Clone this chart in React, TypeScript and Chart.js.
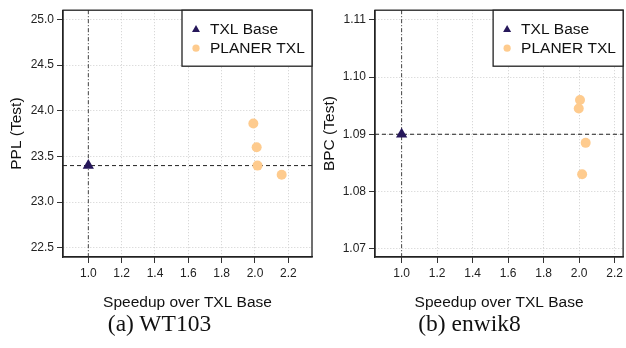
import React, { useEffect, useRef } from "react";
import { Chart, registerables } from "chart.js";

Chart.register(...registerables);

// ---- data ----
const seriesLabels = ["TXL Base", "PLANER TXL"];
const xTicks = [1.0, 1.2, 1.4, 1.6, 1.8, 2.0, 2.2];
const wtYTicks = [22.5, 23.0, 23.5, 24.0, 24.5, 25.0];
const enYTicks = [1.07, 1.08, 1.09, 1.1, 1.11];

const wtBaseSpeedup = [1.0];
const wtBasePPL = [23.4];
const wtPlanerSpeedup = [1.99, 2.01, 2.015, 2.16];
const wtPlanerPPL = [23.86, 23.6, 23.4, 23.3];

const enBaseSpeedup = [1.0];
const enBaseBPC = [1.09];
const enPlanerSpeedup = [2.005, 1.998, 2.037, 2.017];
const enPlanerBPC = [1.096, 1.0945, 1.0885, 1.083];

const captions = ["(a) WT103", "(b) enwik8"];

const BASE_COLOR = "#26175a";
const PLANER_COLOR = "#fecb8e";
const SANS = "'Liberation Sans', Arial, Helvetica, sans-serif";

const overlay = {
  id: "overlay",
  beforeDatasetsDraw(chart: any, _args: any, opts: any) {
    const { ctx, chartArea: a, scales } = chart;
    const px = scales.x.getPixelForValue(opts.refX);
    const py = scales.y.getPixelForValue(opts.refY);
    ctx.save();
    ctx.lineWidth = 1;
    ctx.strokeStyle = "#444";
    ctx.setLineDash([4, 2, 1, 2]);
    ctx.beginPath();
    ctx.moveTo(px, a.top);
    ctx.lineTo(px, a.bottom);
    ctx.stroke();
    ctx.strokeStyle = "#222";
    ctx.setLineDash([4, 3]);
    ctx.beginPath();
    ctx.moveTo(a.left, py);
    ctx.lineTo(a.right, py);
    ctx.stroke();
    ctx.restore();
  },
  afterDraw(chart: any) {
    const { ctx, chartArea: a } = chart;
    ctx.save();
    ctx.setLineDash([]);
    // frame
    ctx.strokeStyle = "#222";
    ctx.lineWidth = 1.3;
    ctx.strokeRect(a.left, a.top, a.right - a.left, a.bottom - a.top);
    // legend
    const w = 130;
    const h = 56;
    const lx = a.right - w;
    const ly = a.top;
    ctx.fillStyle = "#fff";
    ctx.fillRect(lx, ly, w, h);
    ctx.strokeRect(lx, ly, w, h);
    const ds = chart.data.datasets;
    const rows = [ly + 18.7, ly + 38];
    ctx.font = `15.5px ${SANS}`;
    ctx.textBaseline = "middle";
    ctx.textAlign = "left";
    for (let i = 0; i < 2; i++) {
      const mx = lx + 14;
      const my = rows[i];
      ctx.fillStyle = ds[i].backgroundColor;
      ctx.beginPath();
      if (ds[i].pointStyle === "triangle") {
        const r = 4.6;
        for (let k = 0; k < 3; k++) {
          const ang = (k * 2 * Math.PI) / 3;
          const x = mx + Math.sin(ang) * r;
          const y = my + 0.8 - Math.cos(ang) * r;
          if (k === 0) ctx.moveTo(x, y);
          else ctx.lineTo(x, y);
        }
        ctx.closePath();
      } else {
        ctx.arc(mx, my, 3.6, 0, Math.PI * 2);
      }
      ctx.fill();
      ctx.fillStyle = "#111";
      ctx.fillText(ds[i].label, lx + 28, my + 1);
    }
    ctx.restore();
  },
};

type PanelProps = {
  baseX: number[];
  baseY: number[];
  planerX: number[];
  planerY: number[];
  yTicks: number[];
  yDecimals: number;
  xMin: number;
  xMax: number;
  yMin: number;
  yMax: number;
  yTitle: string;
  yAxisWidth: number;
  padRight: number;
};

function Panel(p: PanelProps) {
  const ref = useRef<HTMLCanvasElement>(null);
  useEffect(() => {
    if (!ref.current) return;
    const chart = new Chart(ref.current, {
      type: "scatter",
      data: {
        datasets: [
          {
            label: seriesLabels[0],
            data: p.baseX.map((x, i) => ({ x, y: p.baseY[i] })),
            backgroundColor: BASE_COLOR,
            borderColor: BASE_COLOR,
            pointStyle: "triangle",
            pointRadius: 6.5,
            pointBorderWidth: 0,
            order: 0,
          },
          {
            label: seriesLabels[1],
            data: p.planerX.map((x, i) => ({ x, y: p.planerY[i] })),
            backgroundColor: PLANER_COLOR,
            borderColor: PLANER_COLOR,
            pointStyle: "circle",
            pointRadius: 5,
            pointBorderWidth: 0,
            order: 1,
          },
        ],
      } as any,
      options: {
        animation: false,
        responsive: false,
        devicePixelRatio: 1,
        layout: {
          autoPadding: false,
          padding: { top: 7, right: p.padRight, left: 0, bottom: 0 },
        },
        plugins: {
          legend: { display: false },
          tooltip: { enabled: false },
          overlay: { refX: p.baseX[0], refY: p.baseY[0] },
        } as any,
        scales: {
          x: {
            type: "linear",
            position: "bottom",
            min: p.xMin,
            max: p.xMax,
            afterBuildTicks: (s: any) => {
              s.ticks = xTicks.map((v) => ({ value: v }));
            },
            afterFit: (s: any) => {
              s.height = 55;
            },
            ticks: {
              callback: (v: any) => Number(v).toFixed(1),
              color: "#222",
              font: { size: 12, family: SANS },
              padding: 3,
              maxRotation: 0,
            },
            grid: {
              color: "#cfcfcf",
              lineWidth: 1,
              tickColor: "#333",
              tickLength: 6,
              tickWidth: 1,
              tickBorderDash: [],
            },
            border: { display: true, color: "#222", width: 1.3, dash: [1, 2] },
            title: {
              display: true,
              text: "Speedup over TXL Base",
              color: "#111",
              font: { size: 15.5, family: SANS },
              padding: { top: 0, bottom: 0 },
            },
          },
          y: {
            type: "linear",
            min: p.yMin,
            max: p.yMax,
            afterBuildTicks: (s: any) => {
              s.ticks = p.yTicks.map((v) => ({ value: v }));
            },
            afterFit: (s: any) => {
              s.width = p.yAxisWidth;
            },
            ticks: {
              callback: (v: any) => Number(v).toFixed(p.yDecimals),
              color: "#222",
              font: { size: 12, family: SANS },
              padding: 3,
            },
            grid: {
              color: "#cfcfcf",
              lineWidth: 1,
              tickColor: "#333",
              tickLength: 6,
              tickWidth: 1,
              tickBorderDash: [],
            },
            border: { display: true, color: "#222", width: 1.3, dash: [1, 2] },
            title: {
              display: true,
              text: p.yTitle,
              color: "#111",
              font: { size: 15.5, family: SANS },
              padding: { top: 7, bottom: 0 },
            },
          },
        },
      } as any,
      plugins: [overlay as any],
    });
    return () => chart.destroy();
  }, []);
  return <canvas ref={ref} width={313} height={312} style={{ display: "block" }} />;
}

export default function App() {
  const capStyle: React.CSSProperties = {
    position: "absolute",
    top: 312,
    width: 313,
    textAlign: "center",
    fontFamily: "'Liberation Serif', 'Times New Roman', serif",
    fontSize: "23.5px",
    lineHeight: 1,
    color: "#111",
  };
  return (
    <div
      style={{
        position: "fixed",
        left: 0,
        top: 0,
        width: 626,
        height: 348,
        background: "#fff",
        overflow: "hidden",
      }}
    >
      <div style={{ position: "absolute", left: 0, top: 0 }}>
        <Panel
          baseX={wtBaseSpeedup}
          baseY={wtBasePPL}
          planerX={wtPlanerSpeedup}
          planerY={wtPlanerPPL}
          yTicks={wtYTicks}
          yDecimals={1}
          xMin={0.848}
          xMax={2.342}
          yMin={22.4}
          yMax={25.1}
          yTitle="PPL (Test)"
          yAxisWidth={63}
          padRight={1}
        />
      </div>
      <div style={{ position: "absolute", left: 313, top: 0 }}>
        <Panel
          baseX={enBaseSpeedup}
          baseY={enBaseBPC}
          planerX={enPlanerSpeedup}
          planerY={enPlanerBPC}
          yTicks={enYTicks}
          yDecimals={2}
          xMin={0.85}
          xMax={2.248}
          yMin={1.06855}
          yMax={1.11168}
          yTitle="BPC (Test)"
          yAxisWidth={62}
          padRight={1.7}
        />
      </div>
      <div style={{ ...capStyle, left: 3 }}>{captions[0]}</div>
      <div style={{ ...capStyle, left: 313 }}>{captions[1]}</div>
    </div>
  );
}
